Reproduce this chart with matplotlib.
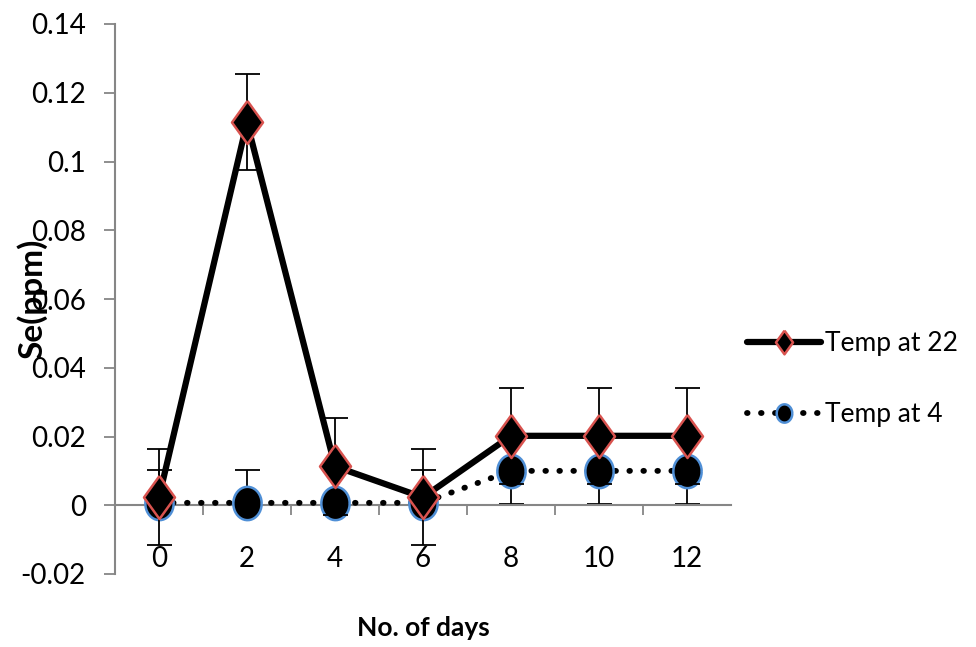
import numpy as np
import matplotlib
matplotlib.use("Agg")
import matplotlib.pyplot as plt

plt.rcParams['font.family'] = ['Lato', 'DejaVu Sans']

days = ["0", "2", "4", "6", "8", "10", "12"]
temp22 = [0.0023, 0.1114, 0.0113, 0.0023, 0.0202, 0.0202, 0.0202]
temp22_err = [0.014, 0.014, 0.014, 0.014, 0.014, 0.014, 0.014]
temp4 = [0.0007, 0.0007, 0.0007, 0.0007, 0.0100, 0.0100, 0.0100]
temp4_err_low = [0, 0, 0, 0, 0.0095, 0.0095, 0.0095]
temp4_err_up = [0.0095, 0.0095, 0.0095, 0.0095, 0.0095, 0.0095, 0.0095]
ytick_vals = [-0.02, 0, 0.02, 0.04, 0.06, 0.08, 0.1, 0.12, 0.14]
ytick_labels = ["-0.02", "0", "0.02", "0.04", "0.06", "0.08", "0.1", "0.12", "0.14"]

# marker shapes (Excel draws them a bit tall)
diamond = [(0, 1), (0.72, 0), (0, -1), (-0.72, 0), (0, 1)]
t = np.linspace(0, 2 * np.pi, 40)
ellipse = list(zip(0.85 * np.cos(t), np.sin(t)))

fig = plt.figure(figsize=(9.76, 6.47), dpi=100)
ax = fig.add_axes([115 / 976, 1 - 574 / 647, 616 / 976, 550 / 647])

x = np.arange(len(days))
gray = "#868686"

ax.errorbar(x, temp4, yerr=[temp4_err_low, temp4_err_up], fmt="none",
            ecolor="black", elinewidth=1.3, capsize=9, capthick=1.3, zorder=2)
ax.plot(x, temp4, linestyle=(0, (0.1, 2.3)), dash_capstyle="round",
        color="black", linewidth=4.2, marker=ellipse, markersize=24,
        markerfacecolor="black", markeredgecolor="#4f8fd6",
        markeredgewidth=1.8, label="Temp at 4", zorder=3)

ax.errorbar(x, temp22, yerr=temp22_err, fmt="none", ecolor="black",
            elinewidth=1.3, capsize=9, capthick=1.3, zorder=4)
ax.plot(x, temp22, linestyle="-", color="black", linewidth=4.5,
        solid_capstyle="round", marker=diamond, markersize=31,
        markerfacecolor="black", markeredgecolor="#d9534f",
        markeredgewidth=1.8, label="Temp at 22", zorder=5)

ax.set_xlim(-0.5, len(days) - 0.5)
ax.set_ylim(-0.02, 0.14)
ax.set_yticks(ytick_vals)
ax.set_yticklabels(ytick_labels)

ax.set_xticks(x)
ax.set_xticklabels(days)
ax.set_xticks(np.arange(0.5, len(days) - 0.5, 1), minor=True)

for s in ["top", "right"]:
    ax.spines[s].set_visible(False)
ax.spines["left"].set_color(gray)
ax.spines["left"].set_linewidth(1.5)
ax.spines["bottom"].set_position(("data", 0))
ax.spines["bottom"].set_color(gray)
ax.spines["bottom"].set_linewidth(1.5)

ax.tick_params(axis="y", direction="out", length=8, width=1.3, color=gray,
               labelsize=20, pad=13)
ax.tick_params(axis="x", which="major", length=0, labelsize=20, pad=29)
ax.tick_params(axis="x", which="minor", direction="out", length=7,
               width=1.3, color=gray)

ax.set_ylabel("Se(ppm)", fontsize=24, fontweight="bold")
ax.yaxis.set_label_coords(-0.11, 0.5)
fig.text(423 / 976, 1 - 628 / 647, "No. of days", fontsize=19,
         fontweight="bold", ha="center", va="center")

handles, labels = ax.get_legend_handles_labels()
fig.legend(handles[::-1], labels[::-1], loc="center left",
           bbox_to_anchor=(747 / 976, 1 - 379 / 647), frameon=False,
           fontsize=19, handlelength=2.8, handletextpad=0.15,
           labelspacing=1.75, markerscale=0.55, borderaxespad=0,
           borderpad=0)

fig.savefig("out.png", dpi=100)
